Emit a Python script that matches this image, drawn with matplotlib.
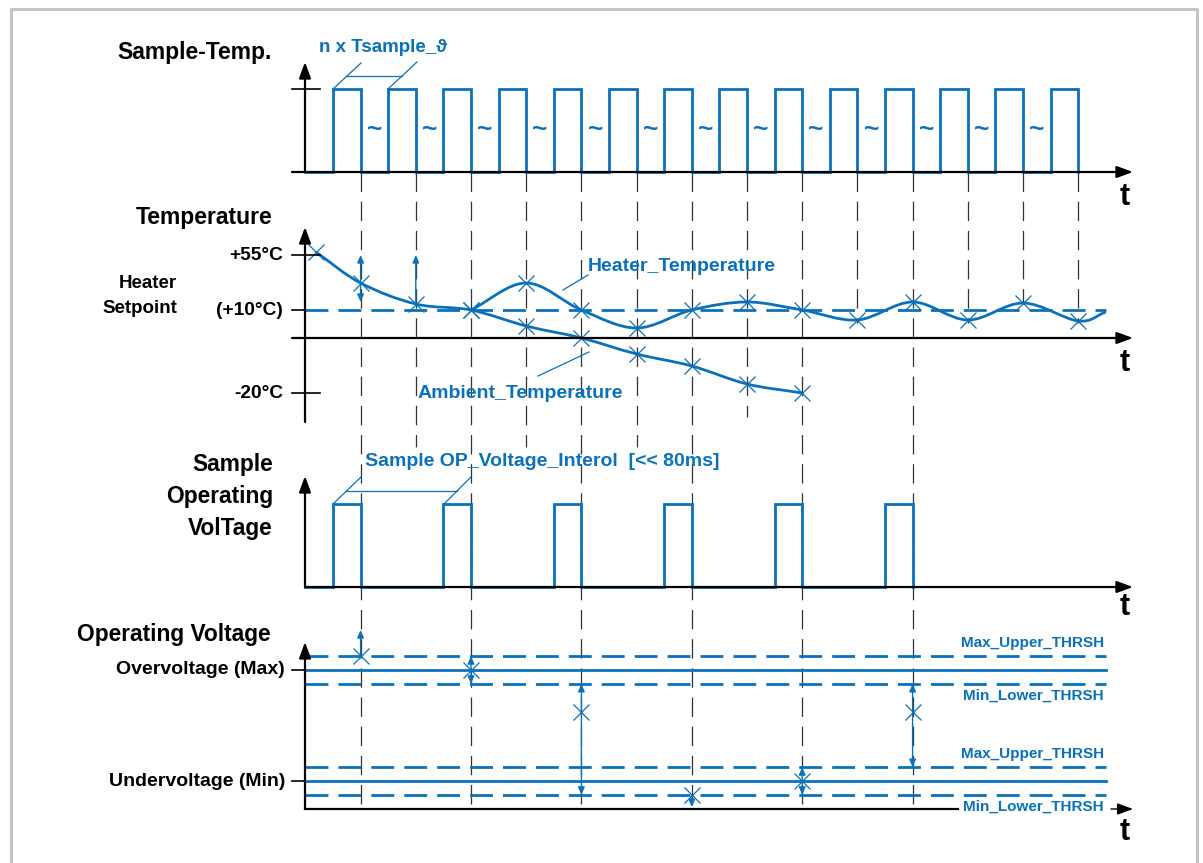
import matplotlib
matplotlib.use('Agg')
import matplotlib.pyplot as plt
import numpy as np
from matplotlib.path import Path
from matplotlib.patches import PathPatch
from matplotlib.transforms import Affine2D

BLUE = '#0a72bc'
plt.rcParams['font.family'] = ['Liberation Sans', 'DejaVu Sans']
plt.rcParams['font.weight'] = 'bold'
plt.rcParams['lines.scale_dashes'] = False

# ---- data (time in sample periods) ----
temp_pulse_starts = list(range(14))          # Sample-Temp pulses
volt_pulse_starts = [0, 2, 4, 6, 8, 10]      # Sample Operating Voltage pulses
pulse_width = 0.5
tilde_times = [k + 0.75 for k in range(13)]
sample_times = [k + 0.5 for k in range(14)]

# temperature panel levels (0 = 0 line, 28 = +10°C setpoint, 83 = +55°C, -55 = -20°C)
temp_tick_levels = [83, 28, -55]
temp_tick_labels = ['+55°C', '(+10°C)', '-20°C']
setpoint_level = 28
cool_t = [-0.31, 0.5, 1.5, 2.5, 3.5, 4.5, 5.5, 6.5, 7.5, 8.5]
cool_level = [86, 55, 34, 28, 12, 0, -16, -28, -46, -55]
heater_t = [2.5, 3.5, 4.5, 5.5, 6.5, 7.5, 8.5, 9.5, 10.5, 11.5, 12.5, 13.5, 14.0]
heater_level = [28, 55, 28, 10, 28, 36, 28, 18, 36, 18, 35, 17, 26]
temp_arrows = [(0.5, 36, 83, '<|-|>'), (1.5, 34, 83, '-|>')]

# operating voltage panel levels (1 = Overvoltage, 0 = Undervoltage)
volt_max, volt_min, hyst = 1.0, 0.0, 0.125
volt_sample_t = [0.5, 2.5, 4.5, 6.5, 8.5, 10.5]
volt_sample_v = [1.125, 1.0, 0.62, -0.125, 0.0, 0.62]
volt_arrows = [(0.5, 1.125, 1.36, '-|>'), (2.5, 0.875, 1.125, '<|-|>'),
               (4.5, -0.125, 0.875, '<|-|>'), (6.5, -0.125, -0.235, '-|>'),
               (8.5, -0.125, 0.125, '<|-|>'), (10.5, 0.125, 0.875, '<|-|>')]

# ---- layout (pixels) ----
W, H = 1203, 863
PX0, PX_T = 333.0, 55.2
T_AXIS, T_END = -0.5, 14.0
vline_end = [809, 447, 809, 447, 809, 447, 809, 417, 809, 323, 809, 323, 303, 323]


def smooth_path(xs, ys):
    p = np.column_stack([xs, ys]).astype(float)
    m = np.zeros_like(p)
    m[0] = p[1] - p[0]
    m[-1] = p[-1] - p[-2]
    m[1:-1] = (p[2:] - p[:-2]) / 2
    verts, codes = [p[0]], [Path.MOVETO]
    for i in range(len(p) - 1):
        verts += [p[i] + m[i] / 3, p[i + 1] - m[i + 1] / 3, p[i + 1]]
        codes += [Path.CURVE4] * 3
    return Path(verts, codes)


def square_wave(starts, width):
    xs, ys = [T_AXIS], [0]
    for s in starts:
        xs += [s, s, s + width, s + width]
        ys += [0, 1, 1, 0]
    return xs, ys


def main():
    fig = plt.figure(figsize=(W / 100, H / 100), dpi=100)
    ax = fig.add_axes([0, 0, 1, 1], zorder=1)
    ax.set_xlim(-PX0 / PX_T, (W - PX0) / PX_T)
    ax.set_ylim(H, 0)
    ax.axis('off')
    lay = fig.add_axes([0, 0, 1, 1], zorder=2)
    lay.set_xlim(0, W)
    lay.set_ylim(H, 0)
    lay.axis('off')
    lay.patch.set_alpha(0)

    tf_st = Affine2D().scale(1, -83).translate(0, 172) + ax.transData
    tf_temp = Affine2D().scale(1, -1).translate(0, 338) + ax.transData
    tf_sov = Affine2D().scale(1, -83).translate(0, 587) + ax.transData
    tf_volt = Affine2D().scale(1, -111).translate(0, 781) + ax.transData

    # frame
    lay.plot([11, 11, 1197, 1197], [H, 9, 9, H], color='#c4c4c4', lw=2.2)

    dash_blue = (0, (16.5, 7.2))
    dash_black = (0, (14, 7))

    # vertical sample lines
    for t, end in zip(sample_times, vline_end):
        ax.plot([t, t], [172, end], color='#333333', lw=0.9, ls=dash_black)

    # --- Sample-Temp panel ---
    xs, ys = square_wave(temp_pulse_starts, pulse_width)
    ax.plot(xs, ys, color=BLUE, lw=2.0, transform=tf_st, solid_joinstyle='miter')
    for t in tilde_times:
        ax.text(t, 0.5, '~', transform=tf_st, color=BLUE, fontsize=19,
                fontweight='heavy', ha='center', va='center')

    # --- Temperature panel ---
    ax.plot([T_AXIS, T_END], [setpoint_level] * 2, color=BLUE, lw=2.0,
            ls=dash_blue, transform=tf_temp)
    ax.add_patch(PathPatch(smooth_path(cool_t, cool_level), fill=False,
                           ec=BLUE, lw=2.0, transform=tf_temp))
    ax.add_patch(PathPatch(smooth_path(heater_t, heater_level), fill=False,
                           ec=BLUE, lw=2.0, transform=tf_temp))
    ax.plot(cool_t, cool_level, ls='none', marker='x', ms=11, mew=0.9,
            color=BLUE, transform=tf_temp)
    ax.plot(heater_t[:-1], heater_level[:-1], ls='none', marker='x', ms=11,
            mew=0.9, color=BLUE, transform=tf_temp)
    for t, y0, y1, style in temp_arrows:
        ax.annotate('', xy=(t, y1), xytext=(t, y0), xycoords=tf_temp,
                    textcoords=tf_temp,
                    arrowprops=dict(arrowstyle=style + ',head_length=0.5,head_width=0.22',
                                    color=BLUE, lw=1.0, mutation_scale=9,
                                    shrinkA=0, shrinkB=0))

    # --- Sample Operating Voltage panel ---
    xs, ys = square_wave(volt_pulse_starts, pulse_width)
    ax.plot(xs, ys, color=BLUE, lw=2.0, transform=tf_sov, solid_joinstyle='miter')

    # --- Operating Voltage panel ---
    for lvl in (volt_max, volt_min):
        ax.plot([T_AXIS, T_END], [lvl, lvl], color=BLUE, lw=2.0, transform=tf_volt)
        for d in (hyst, -hyst):
            ax.plot([T_AXIS, T_END], [lvl + d] * 2, color=BLUE, lw=2.0,
                    ls=dash_blue, transform=tf_volt)
    for t, y0, y1, style in volt_arrows:
        ax.annotate('', xy=(t, y1), xytext=(t, y0), xycoords=tf_volt,
                    textcoords=tf_volt,
                    arrowprops=dict(arrowstyle=style + ',head_length=0.5,head_width=0.22',
                                    color=BLUE, lw=1.0, mutation_scale=9,
                                    shrinkA=0, shrinkB=0))
    ax.plot(volt_sample_t, volt_sample_v, ls='none', marker='x', ms=11, mew=0.9,
            color=BLUE, transform=tf_volt)

    # ---- axes drawn in layout pixels ----
    big = dict(arrowstyle='-|>,head_length=0.6,head_width=0.22', color='k',
               lw=1.6, mutation_scale=16, shrinkA=0, shrinkB=0)

    def arrow(x0, y0, x1, y1, props=big):
        lay.annotate('', xy=(x1, y1), xytext=(x0, y0), arrowprops=props)

    ax_x = 305
    arrow(292, 172, 1133, 172)
    arrow(ax_x, 172, ax_x, 62)
    lay.plot([292, 320], [89, 89], color='k', lw=1.2)

    arrow(292, 338, 1133, 338)
    arrow(ax_x, 422, ax_x, 227)
    for lvl, lab in zip(temp_tick_levels, temp_tick_labels):
        ypx = 338 - lvl
        lay.plot([292, 320 if lab != '(+10°C)' else ax_x], [ypx, ypx], color='k', lw=1.2)
        lay.text(283, ypx, lab, ha='right', va='center', fontsize=13.8)

    arrow(ax_x, 587, 1133, 587)
    arrow(ax_x, 587, ax_x, 476)

    lay.plot([ax_x, 958], [809, 809], color='k', lw=1.6)
    arrow(ax_x, 809, ax_x, 642)
    arrow(1111, 809, 1133, 809,
          dict(arrowstyle='-|>,head_length=0.6,head_width=0.22', color='k',
               lw=1.0, mutation_scale=16, shrinkA=0, shrinkB=0))
    for ypx in (670, 781):
        lay.plot([292, ax_x], [ypx, ypx], color='k', lw=1.2)

    # ---- titles / labels ----
    lay.text(272, 52, 'Sample-Temp.', ha='right', va='center', fontsize=16.5)
    lay.text(272, 217, 'Temperature', ha='right', va='center', fontsize=16.5)
    lay.text(177, 296, 'Heater\nSetpoint', ha='right', va='center',
             fontsize=13.5, linespacing=1.55, multialignment='right')
    lay.text(273, 496, 'Sample\nOperating\nVolTage', ha='right', va='center',
             fontsize=16.4, linespacing=1.5, multialignment='right')
    lay.text(271, 634, 'Operating Voltage', ha='right', va='center', fontsize=16.4)
    lay.text(285, 669, 'Overvoltage (Max)', ha='right', va='center', fontsize=14)
    lay.text(285, 781, 'Undervoltage (Min)', ha='right', va='center', fontsize=14)
    for ypx in (197, 363, 607, 832):
        lay.text(1125, ypx, 't', ha='center', va='center', fontsize=22)

    lay.text(319, 48, 'n x Tsample_ϑ', color=BLUE, ha='left', va='center', fontsize=13.5)
    lay.plot([333, 361], [89, 63], color=BLUE, lw=0.9)
    lay.plot([346, 402], [76, 76], color=BLUE, lw=0.9)
    lay.plot([388, 417], [89, 62], color=BLUE, lw=0.9)

    lay.text(588, 266, 'Heater_Temperature', color=BLUE, ha='left', va='center', fontsize=14)
    lay.plot([563, 588], [290, 275], color=BLUE, lw=0.9)
    lay.text(418, 393, 'Ambient_Temperature', color=BLUE, ha='left', va='center', fontsize=14)
    lay.plot([538, 589], [376, 352], color=BLUE, lw=0.9)

    lay.text(365, 461, 'Sample OP_Voltage_Interol  [<< 80ms]', color=BLUE,
             ha='left', va='center', fontsize=14)
    lay.plot([333, 361], [504, 477], color=BLUE, lw=0.9)
    lay.plot([346, 457], [491, 491], color=BLUE, lw=0.9)
    lay.plot([444, 471], [504, 477], color=BLUE, lw=0.9)

    for ypx, lab in zip((643, 696, 754, 807),
                        ('Max_Upper_THRSH', 'Min_Lower_THRSH',
                         'Max_Upper_THRSH', 'Min_Lower_THRSH')):
        lay.text(1104, ypx, lab, color=BLUE, ha='right', va='center', fontsize=11)

    fig.savefig('out.png', dpi=100, facecolor='white')


if __name__ == '__main__':
    main()
